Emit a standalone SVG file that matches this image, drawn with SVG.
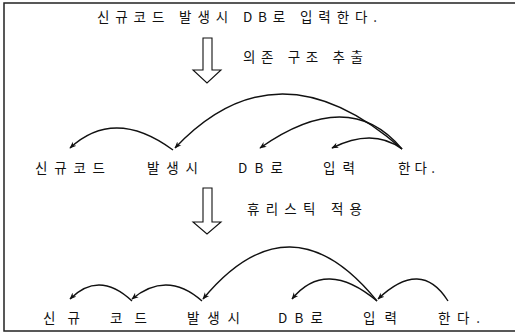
<svg xmlns="http://www.w3.org/2000/svg" width="515" height="334" viewBox="0 0 515 334">
<defs>
<style>
.t{font-family:"Noto Sans CJK KR","Liberation Sans",sans-serif;font-size:13.5px;fill:#111;}
.arc{fill:none;stroke:#111;stroke-width:1.4;marker-end:url(#ah);}
.big{fill:#fff;stroke:#111;stroke-width:1.1;}
.frame{stroke:#222;stroke-width:1.5;fill:none;}
</style>
<marker id="ah" viewBox="0 0 10 10" refX="9" refY="5" markerWidth="7" markerHeight="7" orient="auto" markerUnits="userSpaceOnUse">
<path d="M0,1 L10,5 L0,9 L3,5 Z" fill="#111"/>
</marker>
</defs>
<g id="frame">
<path class="frame" d="M515,3 H4 V331 H515"/>
</g>
<g id="title"><text class="t" x="97" y="22" textLength="280" lengthAdjust="spacing">신규코드 발생시 DB로 입력한다.</text></g>
<g id="step1">
<path class="big" d="M203,38 H212 V70 H221 L207,83 L193,70 H203 Z"/>
<text class="t" x="243" y="62" textLength="120" lengthAdjust="spacing">의존 구조 추출</text>
</g>
<g id="step2">
<path class="big" d="M203,188 H212 V222 H221 L207,234 L193,222 H203 Z"/>
<text class="t" x="247" y="214" textLength="115" lengthAdjust="spacing">휴리스틱 적용</text>
</g>
<g id="row1">
<g id="r1-w1"><text class="t" x="35" y="173" textLength="70" lengthAdjust="spacing">신규코드</text></g>
<g id="r1-w2"><text class="t" x="147" y="173" textLength="51" lengthAdjust="spacing">발생시</text></g>
<g id="r1-w3"><text class="t" x="238" y="173" textLength="45" lengthAdjust="spacing">DB로</text></g>
<g id="r1-w4"><text class="t" x="323" y="173" textLength="32" lengthAdjust="spacing">입력</text></g>
<g id="r1-w5"><text class="t" x="398" y="173" textLength="37" lengthAdjust="spacing">한다.</text></g>
</g>
<g id="row2">
<g id="r2-w1"><text class="t" x="43" y="323" textLength="37" lengthAdjust="spacing">신규</text></g>
<g id="r2-w2"><text class="t" x="110" y="323" textLength="37" lengthAdjust="spacing">코드</text></g>
<g id="r2-w3"><text class="t" x="187" y="323" textLength="53" lengthAdjust="spacing">발생시</text></g>
<g id="r2-w4"><text class="t" x="278" y="323" textLength="45" lengthAdjust="spacing">DB로</text></g>
<g id="r2-w5"><text class="t" x="363" y="323" textLength="34" lengthAdjust="spacing">입력</text></g>
<g id="r2-w6"><text class="t" x="438" y="323" textLength="42" lengthAdjust="spacing">한다.</text></g>
</g>
<g id="connectors">
<path class="arc" d="M173,150 Q114.5,107 70,148"/>
<path class="arc" d="M402,149 Q277.5,39.5 175,148"/>
<path class="arc" d="M402,149 Q349,85.5 260,148"/>
<path class="arc" d="M402,149 Q373,127.5 332,148"/>
<path class="arc" d="M132,301 Q99,270 70,299"/>
<path class="arc" d="M202,301 Q167,270 132,299"/>
<path class="arc" d="M377,301 Q290,194 203,299"/>
<path class="arc" d="M377,301 Q325.5,258 292,299"/>
<path class="arc" d="M448,301 Q421,258 378,299"/>
</g>
</svg>
